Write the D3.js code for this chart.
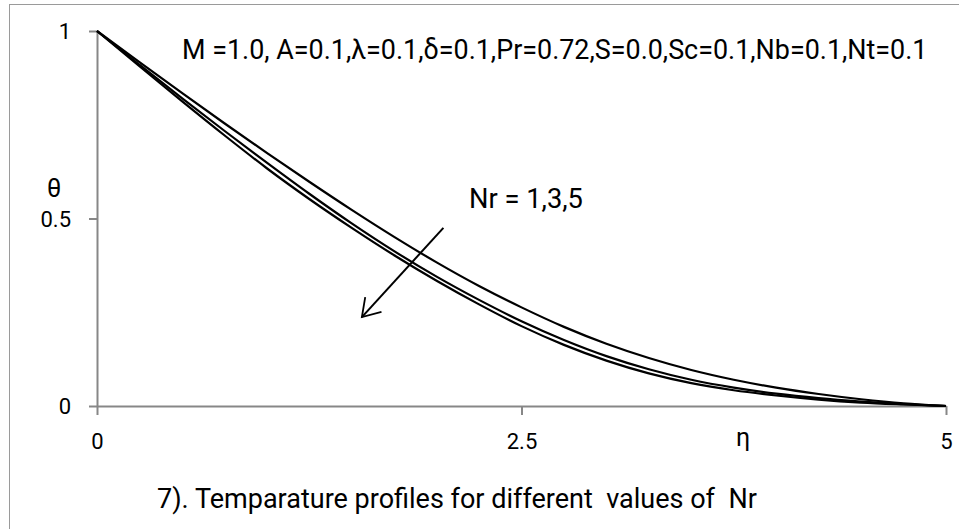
<!DOCTYPE html>
<html>
<head>
<meta charset="utf-8">
<script src="https://cdn.jsdelivr.net/npm/d3@7"></script>
<style>
  body { margin: 0; background: #fff; }
  svg { display: block; font-family: Roboto, "Noto Sans", sans-serif; }
</style>
</head>
<body>
<svg width="959" height="529"></svg>
<script>
// eta values and theta profiles
var eta = [0, 0.25, 0.5, 0.75, 1, 1.25, 1.5, 1.75, 2, 2.25, 2.5, 2.75, 3, 3.25, 3.5, 3.75, 4, 4.25, 4.5, 4.75, 5]
var thetaNr1 = [1, 0.917, 0.835, 0.754, 0.675, 0.598, 0.523, 0.451, 0.383, 0.32, 0.263, 0.211, 0.166, 0.128, 0.096, 0.07, 0.049, 0.032, 0.018, 0.007, 0]
var thetaNr3 = [1, 0.91, 0.821, 0.734, 0.649, 0.566, 0.487, 0.413, 0.345, 0.283, 0.226, 0.176, 0.133, 0.098, 0.07, 0.049, 0.033, 0.021, 0.012, 0.005, 0]
var thetaNr5 = [1, 0.906, 0.813, 0.722, 0.634, 0.552, 0.475, 0.402, 0.334, 0.271, 0.213, 0.163, 0.121, 0.087, 0.061, 0.042, 0.028, 0.017, 0.009, 0.004, 0]
var series = [thetaNr1, thetaNr3, thetaNr5]

var xTicks = [0, 2.5, 5]
var yTicks = [0, 0.5, 1]

var paramText = "M =1.0, A=0.1,\u03bb=0.1,\u03b4=0.1,Pr=0.72,S=0.0,Sc=0.1,Nb=0.1,Nt=0.1"
var nrText = "Nr = 1,3,5"
var titleText = "7). Temparature profiles for different  values of  Nr"
// arrow drawn in data coords (start, end)
var arrowFrom = [2.04, 0.475]
var arrowTo = [1.56, 0.237]

var svg = d3.select("svg")
var axisGray = "#878787"

svg.append("rect")
    .attr("x", 9.5).attr("y", 4.5)
    .attr("width", 960).attr("height", 540)
    .attr("fill", "none")
    .attr("stroke", "#9a9a9a")

var x = d3.scaleLinear().domain([0, 5]).range([97, 946])
var y = d3.scaleLinear().domain([0, 1]).range([406, 31])

var xAxis = svg.append("g")
    .attr("transform", "translate(0," + y(0) + ")")
    .call(d3.axisBottom(x).tickValues(xTicks).tickFormat(d3.format("")).tickSize(9).tickSizeOuter(0).tickPadding(18))

var yAxis = svg.append("g")
    .attr("transform", "translate(" + x(0) + ",0)")
    .call(d3.axisLeft(y).tickValues(yTicks).tickFormat(d3.format("")).tickSize(8).tickSizeOuter(0).tickPadding(18))

svg.selectAll(".domain, .tick line")
    .attr("stroke", axisGray)
    .attr("stroke-width", 2)
svg.selectAll(".tick text")
    .attr("fill", "#000")
    .style("font-size", "22px")
    .style("font-family", "Roboto, sans-serif")
yAxis.selectAll(".tick text").attr("dy", "0.36em")

var line = d3.line()
    .x(function(d, i) { return x(eta[i]) })
    .y(function(d) { return y(d) })
    .curve(d3.curveMonotoneX)

svg.append("g").selectAll("path")
    .data(series)
    .enter().append("path")
    .attr("d", line)
    .attr("fill", "none")
    .attr("stroke", "#000")
    .attr("stroke-width", 2.2)

// open arrow head
svg.append("defs").append("marker")
    .attr("id", "head")
    .attr("viewBox", "0 0 22 24")
    .attr("refX", 18).attr("refY", 12)
    .attr("markerWidth", 22).attr("markerHeight", 24)
    .attr("markerUnits", "userSpaceOnUse")
    .attr("orient", "auto")
    .append("path")
    .attr("d", "M1,1 L18,12 L1,23")
    .attr("fill", "none")
    .attr("stroke", "#000")
    .attr("stroke-width", 1.8)

svg.append("line")
    .attr("x1", x(arrowFrom[0])).attr("y1", y(arrowFrom[1]))
    .attr("x2", x(arrowTo[0])).attr("y2", y(arrowTo[1]))
    .attr("stroke", "#000")
    .attr("stroke-width", 2)
    .attr("marker-end", "url(#head)")

function fitWidth(sel, w) {
    var size = parseFloat(sel.style("font-size"))
    var len = sel.node().getComputedTextLength()
    sel.style("font-size", (size * w / len) + "px")
}

var param = svg.append("text")
    .attr("x", 182).attr("y", 59)
    .style("font-size", "24px")
    .text(paramText)
fitWidth(param, 746)

var nr = svg.append("text")
    .attr("x", 469).attr("y", 208)
    .style("font-size", "26px")
    .text(nrText)
fitWidth(nr, 114)

svg.append("text")
    .attr("x", 54).attr("y", 197)
    .attr("text-anchor", "middle")
    .style("font-size", "25px")
    .text("\u03b8")

svg.append("text")
    .attr("x", 743).attr("y", 446)
    .attr("text-anchor", "middle")
    .style("font-size", "25px")
    .text("\u03b7")

var title = svg.append("text")
    .attr("x", 157).attr("y", 508)
    .style("font-size", "24px")
    .style("white-space", "pre")
    .text(titleText)
fitWidth(title, 600)
</script>
</body>
</html>
